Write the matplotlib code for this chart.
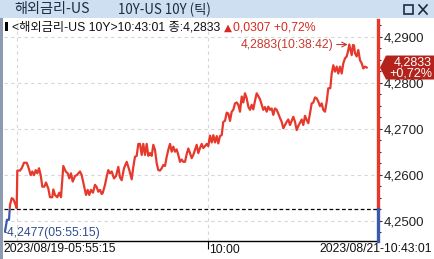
import matplotlib
matplotlib.use("Agg")
import matplotlib.pyplot as plt
from matplotlib.patches import Rectangle, Polygon
from matplotlib.lines import Line2D
from matplotlib.ticker import FixedLocator, MultipleLocator, FuncFormatter

# --- dados ----------------------------------------------------------------
title_name = "해외금리-US"
title_item = "10Y-US 10Y (틱)"
symbol = "<해외금리-US 10Y>"
last_time = "10:43:01"
start_label = "2023/08/19-05:55:15"
end_label = "2023/08/21-10:43:01"
mid_label = "10:00"
mid_tick = 203            # indice do tick em 10:00
mark_tick = 12            # linha de grade vertical extra
prev_close = 4.2526
change = 0.0307
change_pct = 0.72
max_time = "10:38:42"
min_time = "05:55:15"
y_ticks = [4.25, 4.26, 4.27, 4.28, 4.29]

tick_pos = [
    0, 2, 4, 5, 6.7, 8.3, 10, 11.7, 12.3, 15, 16.7, 19, 21.7, 23.3, 25.7,
    27.3, 29, 30.7, 32.3, 34, 35.7, 37.3, 39.3, 41, 43.3, 45, 47.3, 48.3, 50,
    52.3, 54.3, 56, 58.3, 60.7, 62.7, 64.3, 66, 67.7, 70, 71.7, 75, 76.7,
    78.3, 81, 82.7, 84.3, 86, 88, 90, 91.7, 93.3, 95, 96.7, 97.7, 100, 101.7,
    103.3, 105, 106.7, 109, 111, 113.3, 115, 116.7, 119, 121.7, 124.3, 126.7,
    128.3, 130, 131.7, 133.3, 135, 136.7, 138.3, 140, 141.7, 143.3, 145,
    146.7, 148.3, 150, 151.7, 153.3, 155, 156.7, 158.3, 160, 161.7, 163.3,
    165, 166.7, 168.3, 170, 171.7, 173.3, 175, 176.7, 178.3, 180, 181.7,
    183.3, 185, 186.7, 188.3, 190, 191.7, 193.3, 195, 196.7, 198.3, 200,
    201.7, 203.3, 205, 206.7, 208.3, 210, 211.7, 213.3, 215, 216.7, 218.3,
    220, 221.7, 223.3, 225, 226.7, 228.3, 230, 231.7, 233.3, 235, 236.7,
    238.3, 240, 241.7, 243.3, 245, 246.7, 248.3, 250, 251.7, 253.3, 255,
    256.7, 258.3, 260, 261.7, 263.3, 265, 266.7, 268.3, 270, 271.7, 273.3,
    275, 276.7, 278.3, 280, 281.7, 283.3, 285, 286.7, 288.3, 290, 291.7,
    293.3, 295, 296.7, 298.3, 300, 301.7, 303.3, 305, 306.7, 308.3, 310,
    311.7, 313.3, 315, 316.7, 318.3, 320, 321.7, 323.3, 325.3, 326.7, 328.3,
    330, 331.7, 333.3, 335, 336.7, 338.3, 340, 341.7, 343.3, 344.3, 346.7,
    348, 349, 350, 351.7, 353.3, 355, 356.7, 358.3, 360, 361.7,
]
price = [
    4.2477, 4.2502, 4.2502, 4.2534, 4.2549, 4.2547, 4.2538, 4.2527, 4.2609,
    4.2609, 4.2614, 4.2626, 4.2626, 4.2617, 4.2599, 4.2607, 4.2599, 4.2610,
    4.2603, 4.2614, 4.2599, 4.2574, 4.2574, 4.2583, 4.2570, 4.2551, 4.2551,
    4.2568, 4.2556, 4.2551, 4.2561, 4.2551, 4.2619, 4.2607, 4.2603, 4.2592,
    4.2603, 4.2585, 4.2597, 4.2599, 4.2607, 4.2599, 4.2583, 4.2556, 4.2567,
    4.2556, 4.2567, 4.2561, 4.2578, 4.2573, 4.2563, 4.2567, 4.2558, 4.2560,
    4.2578, 4.2596, 4.2610, 4.2603, 4.2607, 4.2592, 4.2597, 4.2617, 4.2594,
    4.2588, 4.2614, 4.2628, 4.2610, 4.2590, 4.2617, 4.2639, 4.2641, 4.2667,
    4.2667, 4.2643, 4.2667, 4.2643, 4.2667, 4.2641, 4.2647, 4.2641, 4.2665,
    4.2654, 4.2625, 4.2610, 4.2609, 4.2614, 4.2621, 4.2619, 4.2639, 4.2654,
    4.2667, 4.2650, 4.2661, 4.2650, 4.2655, 4.2643, 4.2628, 4.2633, 4.2628,
    4.2628, 4.2645, 4.2657, 4.2647, 4.2636, 4.2643, 4.2654, 4.2665, 4.2647,
    4.2658, 4.2667, 4.2658, 4.2662, 4.2667, 4.2662, 4.2685, 4.2670, 4.2686,
    4.2670, 4.2684, 4.2668, 4.2684, 4.2686, 4.2715, 4.2717, 4.2735, 4.2733,
    4.2717, 4.2737, 4.2741, 4.2755, 4.2757, 4.2752, 4.2737, 4.2770, 4.2757,
    4.2777, 4.2766, 4.2748, 4.2741, 4.2752, 4.2742, 4.2761, 4.2777, 4.2771,
    4.2764, 4.2752, 4.2741, 4.2747, 4.2737, 4.2748, 4.2741, 4.2744, 4.2730,
    4.2744, 4.2741, 4.2733, 4.2723, 4.2715, 4.2701, 4.2708, 4.2715, 4.2720,
    4.2708, 4.2717, 4.2726, 4.2715, 4.2697, 4.2706, 4.2713, 4.2720, 4.2708,
    4.2728, 4.2719, 4.2712, 4.2733, 4.2755, 4.2757, 4.2768, 4.2766, 4.2759,
    4.2749, 4.2755, 4.2741, 4.2737, 4.2759, 4.2788, 4.2788, 4.2820, 4.2838,
    4.2824, 4.2835, 4.2820, 4.2835, 4.2820, 4.2842, 4.2853, 4.2857, 4.2871,
    4.2883, 4.2860, 4.2882, 4.2881, 4.2864, 4.2857, 4.2871, 4.2849, 4.2842,
    4.2831, 4.2835, 4.2833,
]

RED = "#e6392c"
BLUE = "#3a5ca8"
TAG = "#b3231c"
LATIN = ["Liberation Sans", "DejaVu Sans", "Noto Sans CJK KR"]
KOREAN = ["Noto Sans CJK KR", "DejaVu Sans"]

W, H = 435, 259


def fx(px):
    return px / W


def fy(py):
    return 1 - py / H


def fmt(v):
    return ("%.4f" % v).replace(".", ",")


fig = plt.figure(figsize=(W / 100, H / 100), dpi=100)
fig.patch.set_facecolor("white")

# barra de titulo da janela
fig.patches.append(Rectangle((0, fy(18)), 1, 1 - fy(18), transform=fig.transFigure,
                             fc="#cddff0", ec="none", zorder=0))
fig.patches.append(Rectangle((0, 0), fx(3.5), fy(18), transform=fig.transFigure,
                             fc="#8d9bb2", ec="none", zorder=0))
fig.text(fx(14), fy(9.5), title_name, family=KOREAN, fontsize=10.2,
         color="#1d2b45", va="center", ha="left")
fig.text(fx(118), fy(9.5), title_item, family=KOREAN, fontsize=9.6,
         color="#1d2b45", va="center", ha="left")
fig.patches.append(Rectangle((fx(404), fy(14)), fx(9), fy(5) - fy(14),
                             transform=fig.transFigure, fill=False,
                             ec="#1d2b45", lw=1.2))
for a, b in [((419, 5), (427, 14)), ((419, 14), (427, 5))]:
    fig.lines.append(Line2D([fx(a[0]), fx(b[0])], [fy(a[1]), fy(b[1])],
                            transform=fig.transFigure, color="#1d2b45", lw=1.2))

# linha de cotacao
fig.patches.append(Rectangle((fx(5), fy(31)), fx(3), fy(22) - fy(31),
                             transform=fig.transFigure, fc="black", ec="none"))
fig.text(fx(12), fy(27), "%s%s 종:%s" % (symbol, last_time, fmt(price[-1])),
         family=LATIN, fontsize=8.8, color="#111111", va="center", ha="left")
fig.text(fx(224), fy(27.5), "▲", family=["DejaVu Sans"], fontsize=7.5,
         color="#d52a20", va="center", ha="left")
fig.text(fx(233), fy(27), "%s +%s%%" % (fmt(change), ("%.2f" % change_pct).replace(".", ",")),
         family=LATIN, fontsize=8.8, color="#d52a20", va="center", ha="left")

# area do grafico
ax = fig.add_axes([fx(4), fy(241), fx(378) - fx(4), fy(20) - fy(241)])
ax.set_xlim(-1, 373)
ax.set_ylim(4.24559, 4.29363)
for s in ["top", "left", "right"]:
    ax.spines[s].set_visible(False)
ax.spines["bottom"].set_color("black")
ax.spines["bottom"].set_linewidth(1.0)

ax.yaxis.tick_right()
ax.yaxis.set_major_locator(FixedLocator(y_ticks))
ax.yaxis.set_minor_locator(MultipleLocator(0.0025))
ax.yaxis.set_major_formatter(FuncFormatter(lambda v, p: fmt(v)))
ax.tick_params(axis="y", which="major", length=3, width=0.8, color="#333333",
               pad=1, labelsize=9.5, labelcolor="#222222")
ax.tick_params(axis="y", which="minor", length=2, width=0.8, color="#333333")
for lab in ax.get_yticklabels():
    lab.set_family(LATIN)

ax.set_xticks([mid_tick])
ax.set_xticklabels([])
ax.tick_params(axis="x", length=6, width=0.8, color="black", direction="out")

for v in y_ticks:
    ax.axhline(v, color="#d6d6d6", lw=0.8, ls=(0, (3, 3)), zorder=0)
for xv in [mark_tick, mid_tick]:
    ax.axvline(xv, color="#d6d6d6", lw=0.8, ls=(0, (3, 3)), zorder=0)
ax.axhline(prev_close, color="black", lw=0.9, ls=(0, (3, 2)), zorder=1)

x0, x1 = ax.get_xlim()
y0, y1 = ax.get_ylim()
up, = ax.plot(tick_pos, price, color=RED, lw=1.6, zorder=3)
dn, = ax.plot(tick_pos, price, color=BLUE, lw=1.6, zorder=3)
up.set_clip_path(Rectangle((x0, prev_close), x1 - x0, y1 - prev_close,
                           transform=ax.transData))
dn.set_clip_path(Rectangle((x0, y0), x1 - x0, prev_close - y0,
                           transform=ax.transData))

# eixo direito bicolor
ax.plot([1, 1], [prev_close, y1], color=RED, lw=2.4, clip_on=False, zorder=4,
        transform=ax.get_yaxis_transform())
ax.plot([1, 1], [y0, prev_close], color=BLUE, lw=2.4, clip_on=False, zorder=4,
        transform=ax.get_yaxis_transform())

# maxima e minima
i_max = price.index(max(price))
i_min = price.index(min(price))
ax.annotate("%s(%s)" % (fmt(price[i_max]), max_time),
            xy=(tick_pos[i_max] - 1.5, price[i_max]), xytext=(-10, 0),
            textcoords="offset points", ha="right", va="center",
            family=LATIN, fontsize=8.7, color="#c83a2e",
            arrowprops=dict(arrowstyle="->", color="#c83a2e", lw=0.8,
                            shrinkA=0, shrinkB=0))
ax.annotate("-%s(%s)" % (fmt(price[i_min]), min_time),
            xy=(tick_pos[i_min], price[i_min]), xytext=(-1, -1.5),
            textcoords="offset points", ha="left", va="center",
            family=LATIN, fontsize=8.7, color="#2f4c8e", annotation_clip=False)

# etiqueta do ultimo preco
fig.canvas.draw()
ax_px = ax.transData.transform((x1, price[-1]))
tx, ty = ax_px[0] + 2, ax_px[1]
verts = [(tx, ty), (tx + 6, ty + 12), (tx + 55, ty + 12), (tx + 55, ty - 12),
         (tx + 6, ty - 12)]
verts = [fig.transFigure.inverted().transform(v) for v in verts]
fig.patches.append(Polygon(verts, closed=True, transform=fig.transFigure,
                           fc=TAG, ec="none", zorder=5))
fig.text((tx + 52) / W, (ty + 5.5) / H, fmt(price[-1]), family=LATIN,
         fontsize=9.0, color="white", ha="right", va="center", zorder=6)
fig.text((tx + 52) / W, (ty - 6) / H, "+%s%%" % ("%.2f" % change_pct).replace(".", ","),
         family=LATIN, fontsize=9.0, color="white", ha="right", va="center", zorder=6)

# rotulos do eixo x
fig.text(fx(3), fy(249), start_label, family=LATIN, fontsize=8.7,
         color="#111111", ha="left", va="center")
ax.annotate(mid_label, xy=(mid_tick, 0), xycoords=ax.get_xaxis_transform(),
            xytext=(1, -6.5), textcoords="offset points", ha="left", va="center",
            family=LATIN, fontsize=8.7, color="#111111", annotation_clip=False)
fig.text(fx(432), fy(249), end_label, family=LATIN, fontsize=8.7,
         color="#111111", ha="right", va="center")

fig.savefig("out.png", dpi=100)
